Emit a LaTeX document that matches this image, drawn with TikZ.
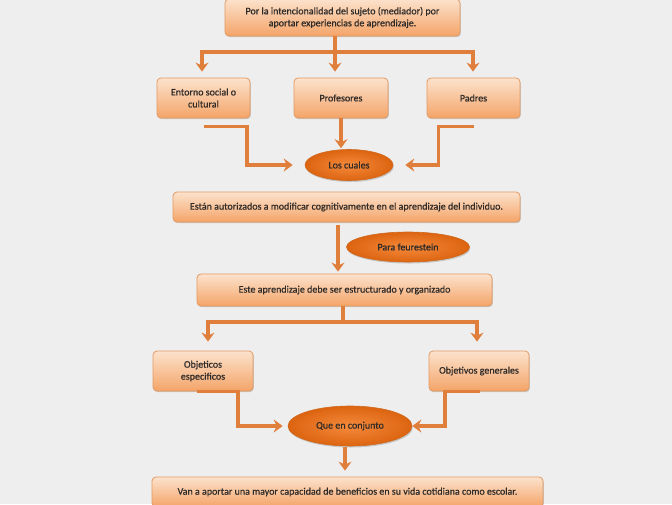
\documentclass[tikz,border=0pt]{standalone}
\usepackage{fontspec}
\setmainfont{Carlito}[RawFeature={embolden=0.6}]
\usetikzlibrary{shapes.geometric,arrows.meta,shadows}
\definecolor{bgc}{HTML}{EEEEEE}
\definecolor{boxtop}{HTML}{FCE2CC}
\definecolor{boxbot}{HTML}{F4A468}
\definecolor{boxline}{HTML}{E39A62}
\definecolor{elin}{HTML}{F58A3C}
\definecolor{elout}{HTML}{DC6410}
\definecolor{elline}{HTML}{D06A20}
\definecolor{arr}{HTML}{E07E3C}
\definecolor{txt}{HTML}{2E2A28}
\tikzset{
  pbox/.style={draw=boxline, line width=0.8pt, rounded corners=4pt,
    top color=boxtop, bottom color=boxbot, text=txt, align=center,
    font=\fontsize{10}{12}\selectfont, inner sep=2pt,
    drop shadow={shadow xshift=0.8pt, shadow yshift=-1.2pt, opacity=0.35}},
  pell/.style={ellipse, draw=elline, line width=0.6pt, inner color=elin,
    outer color=elout, text=txt, font=\fontsize{10}{12}\selectfont,
    inner sep=0pt,
    drop shadow={shadow xshift=0.8pt, shadow yshift=-1.5pt, opacity=0.35}},
  conn/.style={draw=arr, line width=3.6pt},
  arrow/.style={conn, -{Stealth[length=9pt,width=13pt,inset=3pt]}},
}
\begin{document}
\begin{tikzpicture}[x={(1pt,0)}, y={(0,-1pt)}]
\fill[bgc] (0,0) rectangle (672,504);
\useasboundingbox (0,0) rectangle (672,504);

% nodes
\node[pbox, minimum width=235pt, minimum height=37pt] (top) at (342.5,17.5)
  {Por la intencionalidad del sujeto (mediador) por\\aportar experiencias de aprendizaje.};
\node[pbox, minimum width=93pt, minimum height=40pt] (ent) at (203.5,98)
  {Entorno social o\\cultural};
\node[pbox, minimum width=94pt, minimum height=40pt] (prof) at (341,98) {Profesores};
\node[pbox, minimum width=93pt, minimum height=40pt] (pad) at (473.5,98) {Padres};
\node[pell, minimum width=88pt, minimum height=31pt] (lc) at (349,165) {Los cuales};
\node[pbox, minimum width=347pt, minimum height=30pt] (est) at (346.5,207)
  {Están autorizados a modificar cognitivamente en el aprendizaje del individuo.};
\node[pell, minimum width=123pt, minimum height=30pt] (para) at (408,247) {Para feurestein};
\node[pbox, minimum width=295pt, minimum height=32pt] (este) at (344.5,290)
  {Este aprendizaje debe ser estructurado y organizado};
\node[pbox, minimum width=100pt, minimum height=40pt] (obe) at (203,371)
  {Objeticos\\especificos};
\node[pbox, minimum width=100pt, minimum height=40pt] (obg) at (479,371)
  {Objetivos generales};
\node[pell, minimum width=124pt, minimum height=40pt] (que) at (350,426) {Que en conjunto};
\node[pbox, minimum width=391pt, minimum height=30pt] (van) at (347.5,492)
  {Van a aportar una mayor capacidad de beneficios en su vida cotidiana como escolar.};

% top fan-out
\coordinate (j) at (335,52);
\coordinate (ja) at (202,52);
\coordinate (jc) at (473,52);
\draw[conn] (top.south -| j) -- (j);
\draw[conn, line cap=rect] (ja) -- (jc);
\draw[arrow, shorten >=6pt] (ja) -- (ja |- ent.north);
\draw[arrow, shorten >=6pt] (j) -- (j |- prof.north);
\draw[arrow, shorten >=6pt] (jc) -- (jc |- pad.north);

% into Los cuales
\draw[arrow, shorten >=12pt] (ent.south) ++(0,8) -- ++(43.5,0) |- (lc.west);
\draw[arrow, shorten >=1pt] (prof.south) -- (prof.south |- lc.north);
\draw[arrow, shorten >=12pt] (pad.south) ++(0,8) -- ++(-35,0) |- (lc.east);

% Están -> Este
\coordinate (e1) at (338,225);
\draw[arrow, shorten >=2pt] (e1) -- (e1 |- este.north);

% Este fan-out
\coordinate (k) at (343,322);
\coordinate (ka) at (208,322);
\coordinate (kc) at (477,322);
\draw[conn] (este.south -| k) -- (k);
\draw[conn, line cap=rect] (ka) -- (kc);
\draw[arrow, shorten >=9pt] (ka) -- (ka |- obe.north);
\draw[arrow, shorten >=9pt] (kc) -- (kc |- obg.north);

% into Que en conjunto
\draw[arrow, shorten >=5pt] (obe.south) ++(-6,0) -- ++(41,0) |- (que.west);
\draw[arrow, shorten >=0pt] (obg.south) ++(1,0) -- ++(-35,0) |- (que.east);

% Que -> Van
\coordinate (q1) at (345,447);
\draw[arrow, shorten >=6pt] (q1) -- (q1 |- van.north);
\end{tikzpicture}
\end{document}
